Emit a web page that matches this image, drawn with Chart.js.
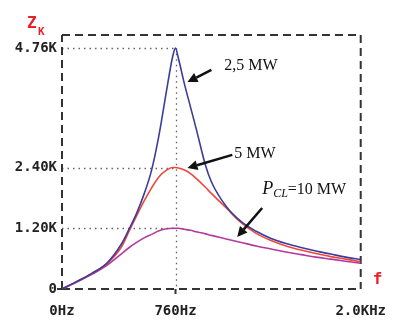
<!DOCTYPE html>
<html>
<head>
<meta charset="utf-8">
<script src="https://cdn.jsdelivr.net/npm/chart.js@4/dist/chart.umd.min.js"></script>
<style>
html,body{margin:0;padding:0;background:#fff;}
#wrap{width:400px;height:320px;position:relative;}
</style>
</head>
<body>
<div id="wrap"><canvas id="c" width="400" height="320"></canvas></div>
<script>
// Frequency samples (Hz)
const freqs = [0,100,200,300,400,450,500,550,600,650,700,740,760,780,820,860,900,960,1000,1100,1200,1300,1400,1500,1600,1700,1800,1900,2000];
// Impedance |Z| in kOhm
const z25MW = [0,0.15,0.31,0.51,0.90,1.19,1.50,1.88,2.35,3.05,3.92,4.58,4.76,4.55,4.05,3.60,3.15,2.45,2.12,1.63,1.33,1.14,1.00,0.90,0.82,0.75,0.69,0.63,0.58];
const z5MW  = [0,0.15,0.31,0.50,0.84,1.15,1.45,1.74,2.00,2.22,2.35,2.40,2.40,2.39,2.35,2.28,2.18,2.01,1.89,1.60,1.31,1.10,0.96,0.85,0.77,0.70,0.64,0.59,0.54];
const z10MW = [0,0.14,0.29,0.47,0.70,0.82,0.92,1.01,1.08,1.15,1.19,1.20,1.20,1.20,1.18,1.16,1.13,1.09,1.06,0.99,0.92,0.85,0.79,0.73,0.68,0.63,0.59,0.55,0.51];
// Tick values and labels
const xTickVals = [0,760,2000];
const xTickLabels = ["0Hz","760Hz","2.0KHz"];
const yTickVals = [0,1.20,2.40,4.76];
const yTickLabels = ["0","1.20K","2.40K","4.76K"];
const seriesNames = ["2,5 MW","5 MW","P_CL=10 MW"];

const pts = arr => freqs.map((f,i)=>({x:f,y:arr[i]}));

const decor = {
  id:'decor',
  beforeDatasetsDraw(chart){
    const {ctx, chartArea:a, scales:{x,y}} = chart;
    ctx.save();
    // dotted reference lines
    ctx.strokeStyle='#666'; ctx.lineWidth=1.3; ctx.setLineDash([1.5,4]);
    const xp = x.getPixelForValue(760);
    [1.20,2.40,4.76].forEach(v=>{
      const yp = Math.round(y.getPixelForValue(v))+0.5;
      ctx.beginPath(); ctx.moveTo(a.left, yp); ctx.lineTo(xp, yp); ctx.stroke();
    });
    ctx.beginPath(); ctx.moveTo(Math.round(xp)+0.5, y.getPixelForValue(4.76)); ctx.lineTo(Math.round(xp)+0.5, a.bottom); ctx.stroke();
    // dashed frame
    ctx.strokeStyle='#333'; ctx.lineWidth=2; ctx.setLineDash([8,5]);
    ctx.beginPath();
    ctx.moveTo(a.left,a.bottom); ctx.lineTo(a.left,a.top);
    ctx.moveTo(a.left,a.top); ctx.lineTo(a.right,a.top);
    ctx.moveTo(a.right,a.top); ctx.lineTo(a.right,a.bottom);
    ctx.moveTo(a.left,a.bottom); ctx.lineTo(a.right,a.bottom);
    ctx.stroke();
    ctx.setLineDash([]);
    // small tick marks
    ctx.lineWidth=2;
    ctx.beginPath();
    ctx.moveTo(a.left-5, a.bottom); ctx.lineTo(a.left, a.bottom);
    ctx.moveTo(xp, a.bottom); ctx.lineTo(xp, a.bottom+5);
    ctx.stroke();
    ctx.restore();
  },
  afterDraw(chart){
    const {ctx, chartArea:a, scales:{x,y}} = chart;
    ctx.save();
    // axis names
    ctx.fillStyle='#e8202a';
    ctx.font='bold 16px "DejaVu Sans Mono"';
    ctx.textBaseline='alphabetic'; ctx.textAlign='left';
    ctx.fillText('Z', 27, 28);
    ctx.font='bold 11px "DejaVu Sans Mono"';
    ctx.fillText('K', 38, 35);
    ctx.font='bold 16px "DejaVu Sans Mono"';
    ctx.fillText('f', a.right+12, a.bottom-5);
    // annotations
    ctx.fillStyle='#111';
    const arrow=(fx1,zy1,fx2,zy2)=>{
      const x1=x.getPixelForValue(fx1), y1=y.getPixelForValue(zy1);
      const x2=x.getPixelForValue(fx2), y2=y.getPixelForValue(zy2);
      const ang=Math.atan2(y2-y1,x2-x1);
      const hl=10, hw=5;
      const bx=x2-hl*Math.cos(ang), by=y2-hl*Math.sin(ang);
      ctx.strokeStyle='#111'; ctx.lineWidth=2.5;
      ctx.beginPath(); ctx.moveTo(x1,y1); ctx.lineTo(bx,by); ctx.stroke();
      ctx.beginPath();
      ctx.moveTo(x2,y2);
      ctx.lineTo(bx+hw*Math.sin(ang), by-hw*Math.cos(ang));
      ctx.lineTo(bx-hw*Math.sin(ang), by+hw*Math.cos(ang));
      ctx.closePath(); ctx.fill();
    };
    arrow(1000,4.33,840,4.09);
    arrow(1140,2.65,840,2.39);
    arrow(1340,1.60,1173,1.03);
    ctx.font='16px "Liberation Serif"';
    ctx.fillText(seriesNames[0], x.getPixelForValue(1087), y.getPixelForValue(4.32));
    ctx.fillText(seriesNames[1], x.getPixelForValue(1153), y.getPixelForValue(2.58));
    let px = x.getPixelForValue(1340), py = y.getPixelForValue(1.88);
    ctx.font='italic 18px "Liberation Serif"';
    ctx.fillText('P', px, py); px += ctx.measureText('P').width;
    ctx.font='italic 12px "Liberation Serif"';
    ctx.fillText('CL', px, py+3); px += ctx.measureText('CL').width;
    ctx.font='16px "Liberation Serif"';
    ctx.fillText('=10 MW', px, py);
    ctx.restore();
  }
};

new Chart(document.getElementById('c'), {
  type:'line',
  data:{
    datasets:[
      {label:seriesNames[0], data:pts(z25MW), borderColor:'#3c3c9c', borderWidth:1.6, pointRadius:0, cubicInterpolationMode:'monotone'},
      {label:seriesNames[1], data:pts(z5MW), borderColor:'#f0473c', borderWidth:1.6, pointRadius:0, cubicInterpolationMode:'monotone'},
      {label:seriesNames[2], data:pts(z10MW), borderColor:'#b23a9e', borderWidth:1.6, pointRadius:0, cubicInterpolationMode:'monotone'}
    ]
  },
  options:{
    responsive:false, animation:false,
    layout:{padding:{top:35,right:38,left:0,bottom:0}},
    plugins:{legend:{display:false}, tooltip:{enabled:false}},
    scales:{
      x:{type:'linear', min:0, max:2000,
        afterBuildTicks:s=>{s.ticks=xTickVals.map(v=>({value:v}));},
        afterFit:s=>{s.height=31;},
        grid:{display:false, drawTicks:false}, border:{display:false},
        ticks:{callback:(v)=>xTickLabels[xTickVals.indexOf(v)], color:'#222', font:{family:'DejaVu Sans Mono', size:14, weight:'bold'}, padding:14, maxRotation:0, autoSkip:false}
      },
      y:{type:'linear', min:0, max:5.02,
        afterBuildTicks:s=>{s.ticks=yTickVals.map(v=>({value:v}));},
        afterFit:s=>{s.width=62;},
        grid:{display:false, drawTicks:false}, border:{display:false},
        ticks:{callback:(v)=>yTickLabels[yTickVals.indexOf(v)], color:'#222', font:{family:'DejaVu Sans Mono', size:14, weight:'bold'}, padding:5, autoSkip:false}
      }
    }
  },
  plugins:[decor]
});
</script>
</body>
</html>
